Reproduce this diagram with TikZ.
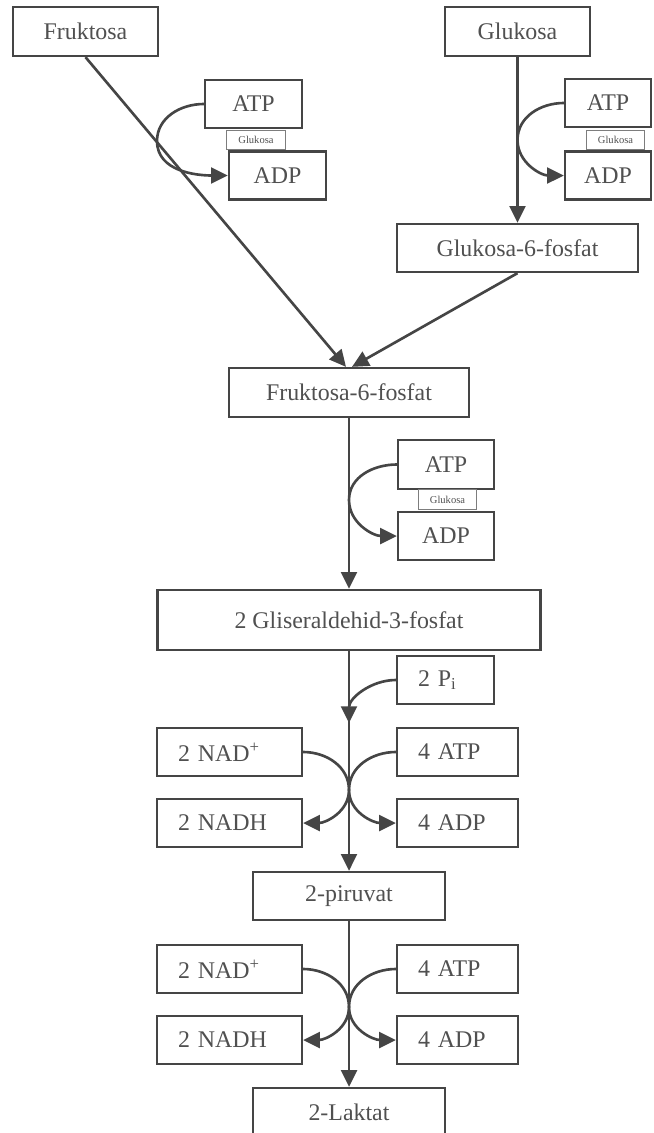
\documentclass[tikz,border=0pt]{standalone}
\usepackage{fontspec}
\setmainfont{Liberation Serif}
\usetikzlibrary{arrows.meta,calc}
\definecolor{ink}{HTML}{454545}
\definecolor{txt}{HTML}{505050}

\begin{document}
\begin{tikzpicture}[x=0.02cm,y=0.02cm,
  box/.style={draw=ink,line width=1.3pt,text=txt,font=\fontsize{13.6}{16}\selectfont,inner sep=0pt,minimum height=0.96cm},
  lbox/.style={box,align=left,inner xsep=0.42cm},
  tag/.style={draw=ink!70,line width=0.5pt,text=txt,font=\fontsize{6}{7}\selectfont,inner sep=0pt,minimum width=1.17cm,minimum height=0.39cm},
  flow/.style={draw=ink,line width=1.5pt},
  >={Triangle[length=9.5pt,width=9pt]}]
\useasboundingbox (0,0) rectangle (653,-1133);
% top row
\node[box,minimum width=2.9cm,minimum height=0.98cm] (fru) at (85.5,-31.5) {Fruktosa};
\node[box,minimum width=2.9cm,minimum height=0.98cm] (glu) at (517.5,-31.5) {Glukosa};
\node[box,minimum width=1.94cm] (atpA) at (253.5,-104) {ATP};
\node[tag] (gluA) at (256,-140) {Glukosa};
\node[box,minimum width=1.94cm] (adpA) at (277.5,-175.5) {ADP};
\node[box,minimum width=1.72cm] (atpB) at (608,-103) {ATP};
\node[tag] (gluB) at (615.5,-140) {Glukosa};
\node[box,minimum width=1.72cm] (adpB) at (608,-175.5) {ADP};
\node[box,minimum width=4.82cm] (g6p) at (517.5,-248) {Glukosa-6-fosfat};
\node[box,minimum width=4.8cm,minimum height=0.98cm] (f6p) at (349,-392.5) {Fruktosa-6-fosfat};
\node[box,minimum width=1.92cm,minimum height=0.98cm] (atpC) at (446,-464.5) {ATP};
\node[tag] (gluC) at (447.5,-499.5) {Glukosa};
\node[box,minimum width=1.92cm] (adpC) at (446,-536) {ADP};
\node[box,minimum width=7.66cm,minimum height=1.2cm] (gap) at (349,-620) {2 Gliseraldehid-3-fosfat};
% lower part
\node[lbox,text width=1.1cm] (pi) at (445.5,-680) {2 P\textsubscript{i}};
\node[lbox,text width=2.06cm] (nadA) at (229.5,-752) {2 NAD\textsuperscript{+}};
\node[lbox,text width=1.58cm] (atpD) at (457.5,-752) {4 ATP};
\node[lbox,text width=2.06cm] (nadhA) at (229.5,-823) {2 NADH};
\node[lbox,text width=1.58cm] (adpD) at (457.5,-823) {4 ADP};
\node[box,minimum width=3.84cm] (pyr) at (349,-896) {2-piruvat};
\node[lbox,text width=2.06cm] (nadB) at (229.5,-969) {2 NAD\textsuperscript{+}};
\node[lbox,text width=1.58cm] (atpE) at (457.5,-969) {4 ATP};
\node[lbox,text width=2.06cm] (nadhB) at (229.5,-1040) {2 NADH};
\node[lbox,text width=1.58cm] (adpE) at (457.5,-1040) {4 ADP};
\node[box,minimum width=3.84cm,minimum height=0.98cm] (lak) at (349,-1112.5) {2-Laktat};

\coordinate (bendA) at (157,-141);
\coordinate (bendB) at (517.5,-140);
\coordinate (bendC) at (349,-500);
\coordinate (piend) at (349,-723);
\coordinate (crossA) at (349,-790);
\coordinate (crossB) at (349,-1007);

\draw[flow,->] (fru.south) -- ($(f6p.north)+(-3,0)$);
\draw[flow,->] (glu.south) -- (g6p.north);
\draw[flow,->] (g6p.south) -- ($(f6p.north)+(3,0)$);
\draw[flow,->] (f6p.south) -- (gap.north);
\draw[flow,->] (gap.south) -- (pyr.north);
\draw[flow,->] (pyr.south) -- (lak.north);

\draw[flow,->] (atpA.west) to[out=180,in=90] (bendA) to[out=-90,in=180] (adpA.west);
\draw[flow,->] (atpB.west) to[out=180,in=90] (bendB) to[out=-90,in=180] (adpB.west);
\draw[flow,->] (atpC.west) to[out=180,in=90] (bendC) to[out=-90,in=180] (adpC.west);
\draw[flow,->] (pi.west) to[out=180,in=90] (piend);

\draw[flow,->] (nadA.east) to[out=0,in=90] (crossA) to[out=-90,in=0] (nadhA.east);
\draw[flow,->] (atpD.west) to[out=180,in=90] (crossA) to[out=-90,in=180] (adpD.west);
\draw[flow,->] (nadB.east) to[out=0,in=90] (crossB) to[out=-90,in=0] (nadhB.east);
\draw[flow,->] (atpE.west) to[out=180,in=90] (crossB) to[out=-90,in=180] (adpE.west);
\end{tikzpicture}
\end{document}
